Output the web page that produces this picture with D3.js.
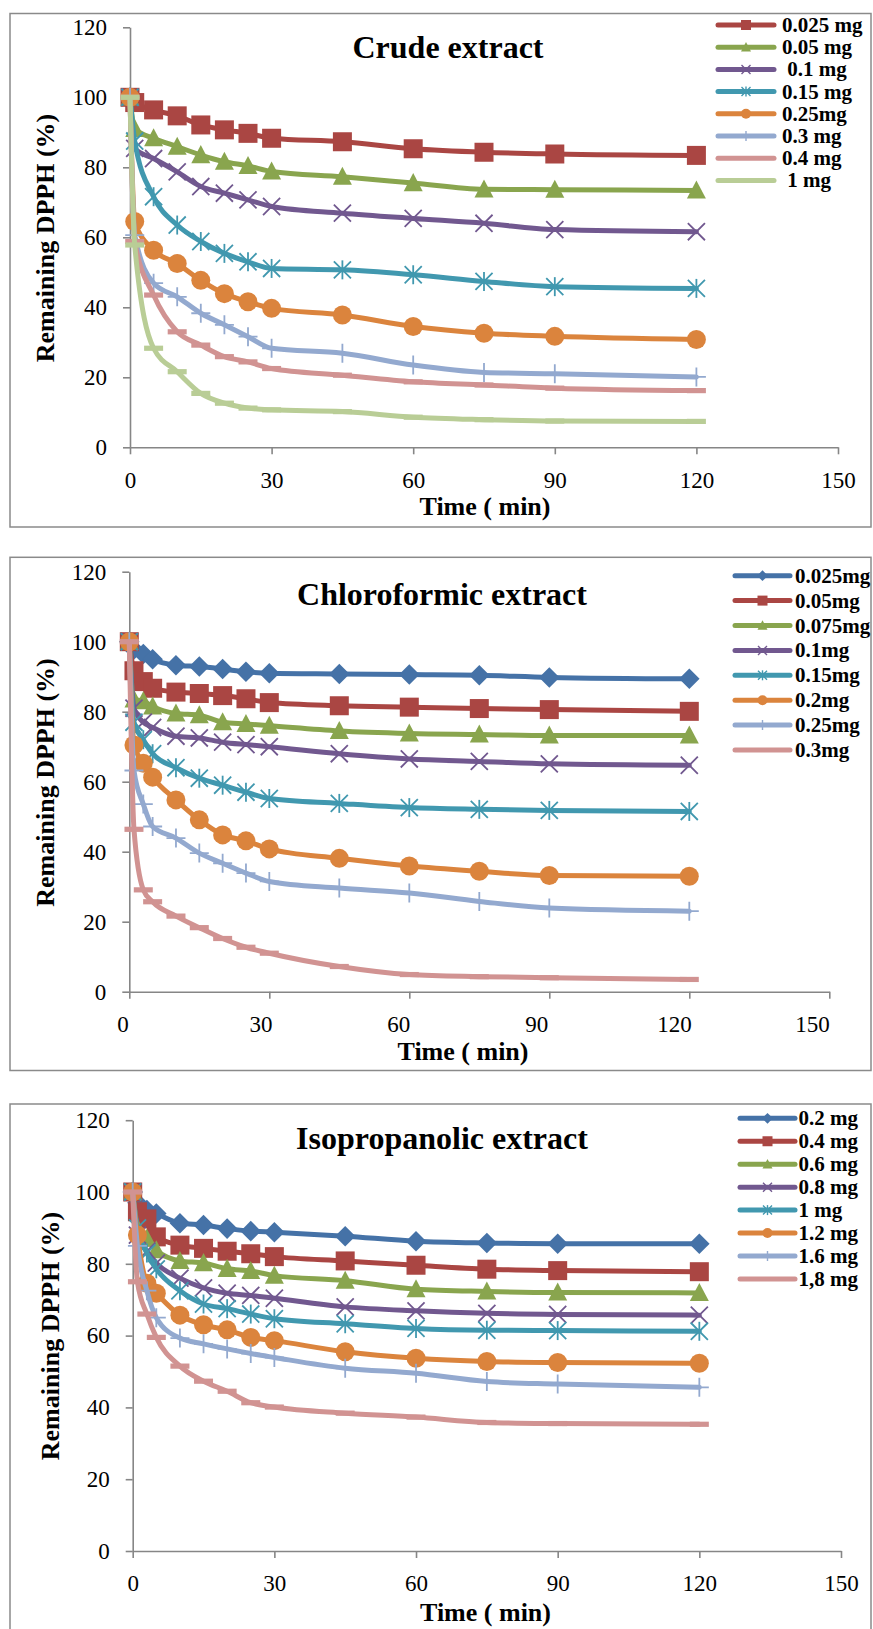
<!DOCTYPE html>
<html>
<head>
<meta charset="utf-8">
<script src="https://cdn.jsdelivr.net/npm/d3@7"></script>
<style>
body { margin: 0; background: #fff; }
svg text { font-family: "Liberation Serif", "Times New Roman", serif; }
</style>
</head>
<body>
<svg id="chart" width="873" height="1629"></svg>
<script>
// ---- data ----
var timesCrude = [0, 1, 5, 10, 15, 20, 25, 30, 45, 60, 75, 90, 120];
var dosesCrude = ["0.025 mg", "0.05 mg", " 0.1 mg", "0.15 mg", "0.25mg", "0.3 mg", "0.4 mg", " 1 mg"];
var valuesCrude = [
    [100, 98.5, 96.4, 94.7, 92.1, 90.7, 89.7, 88.3, 87.3, 85.3, 84.3, 83.8, 83.4],
    [100, 91.0, 88.3, 85.9, 83.5, 81.6, 80.4, 78.8, 77.3, 75.5, 73.7, 73.6, 73.4],
    [100, 85.4, 82.5, 78.7, 74.5, 72.6, 70.7, 68.8, 66.9, 65.4, 64.0, 62.2, 61.6],
    [100, 87.5, 71.6, 63.5, 58.8, 55.4, 53.0, 51.1, 50.7, 49.3, 47.4, 45.9, 45.4],
    [100, 64.5, 56.3, 52.5, 47.7, 43.9, 41.6, 39.7, 37.8, 34.5, 32.6, 31.7, 30.8],
    [100, 60.6, 46.9, 43.0, 38.3, 35.0, 31.6, 28.3, 26.9, 23.5, 21.4, 21.0, 20.1],
    [100, 58.8, 43.5, 33.0, 29.2, 25.9, 24.4, 22.5, 20.6, 18.7, 17.8, 16.9, 16.2],
    [100, 57.8, 28.3, 21.6, 15.4, 12.6, 11.2, 10.7, 10.2, 8.6, 7.9, 7.5, 7.4]
];

var timesChloro = [0, 1, 3, 5, 10, 15, 20, 25, 30, 45, 60, 75, 90, 120];
var dosesChloro = ["0.025mg", "0.05mg", "0.075mg", "0.1mg", "0.15mg", "0.2mg", "0.25mg", "0.3mg"];
var valuesChloro = [
    [100, 97.8, 96.5, 95.0, 93.3, 92.9, 92.2, 91.4, 91.0, 90.8, 90.6, 90.4, 89.8, 89.4],
    [100, 91.7, 88.6, 86.7, 85.6, 85.2, 84.6, 83.7, 82.6, 81.7, 81.3, 80.9, 80.6, 80.1],
    [100, 83.5, 83.0, 81.5, 79.5, 79.0, 77.0, 76.5, 76.0, 74.5, 73.8, 73.5, 73.2, 73.2],
    [100, 81.0, 77.0, 75.5, 73.0, 72.5, 71.3, 70.6, 70.0, 68.0, 66.5, 65.8, 65.1, 64.7],
    [100, 77.0, 72.0, 68.0, 64.0, 61.0, 59.0, 57.0, 55.2, 53.8, 52.6, 52.1, 51.8, 51.5],
    [100, 70.5, 65.3, 61.3, 54.8, 49.1, 44.8, 43.1, 40.8, 38.1, 35.9, 34.4, 33.2, 33.0],
    [100, 63.2, 53.6, 47.2, 43.9, 39.6, 36.7, 33.9, 31.5, 29.6, 28.2, 25.8, 23.9, 23.0],
    [100, 46.4, 29.1, 25.7, 21.6, 18.3, 15.2, 12.7, 11.0, 7.2, 4.9, 4.3, 4.0, 3.5]
];

var timesIso = [0, 1, 3, 5, 10, 15, 20, 25, 30, 45, 60, 75, 90, 120];
var dosesIso = ["0.2 mg", "0.4 mg", "0.6 mg", "0.8 mg", "1 mg", "1.2 mg", "1.6 mg", "1,8 mg"];
var valuesIso = [
    [100, 97.0, 95.0, 94.0, 91.3, 90.8, 89.8, 89.1, 88.8, 87.7, 86.3, 85.8, 85.6, 85.6],
    [100, 94.5, 92.5, 87.5, 85.2, 84.3, 83.5, 82.8, 82.0, 80.8, 79.6, 78.5, 78.1, 77.8],
    [100, 90.0, 87.0, 83.8, 80.8, 80.2, 78.6, 78.0, 76.7, 75.3, 72.9, 72.3, 72.0, 71.9],
    [100, 88.0, 83.5, 80.2, 76.0, 73.3, 71.8, 71.2, 70.4, 68.0, 66.9, 66.2, 65.9, 65.7],
    [100, 90.0, 83.0, 78.6, 72.5, 68.8, 67.5, 66.0, 64.7, 63.3, 62.0, 61.5, 61.4, 61.2],
    [100, 88.0, 74.6, 71.8, 65.7, 63.0, 61.6, 59.5, 58.6, 55.5, 53.7, 52.8, 52.5, 52.3],
    [100, 85.0, 72.5, 65.0, 59.3, 57.7, 56.3, 55.0, 53.9, 50.9, 49.5, 47.2, 46.5, 45.6],
    [100, 75.0, 66.0, 59.5, 51.5, 47.3, 44.5, 41.3, 40.1, 38.4, 37.3, 35.8, 35.5, 35.3]
];

var yTicks = [0, 20, 40, 60, 80, 100, 120];
var xTicks = [0, 30, 60, 90, 120, 150];

// ---- styles ----
var styles = {
    blue:    {color: "#4572A7", marker: "diamond"},
    red:     {color: "#AA4643", marker: "square"},
    green:   {color: "#89A54E", marker: "triangle"},
    purple:  {color: "#71588F", marker: "cross"},
    teal:    {color: "#4198AF", marker: "star"},
    orange:  {color: "#DB843D", marker: "circle"},
    ltblue:  {color: "#93A9CF", marker: "plus"},
    pink:    {color: "#D19392", marker: "dash"},
    ltgreen: {color: "#B9CD96", marker: "dash"}
};
var axisColor = "#868686";
var serif = "'Liberation Serif', 'Times New Roman', serif";
var svg = d3.select("#chart");

function drawMarker(g, type, x, y, s, color, legend) {
    var m = g.append("g").attr("transform", "translate(" + x + "," + y + ")");
    var h = s / 2;
    var sw = legend ? 1.4 : 1.8;
    if (type == "square") {
        m.append("rect").attr("x", -h).attr("y", -h).attr("width", s).attr("height", s).attr("fill", color);
    } else if (type == "diamond") {
        var d = h * 1.08;
        m.append("path").attr("d", "M0," + (-d) + "L" + d + ",0L0," + d + "L" + (-d) + ",0Z").attr("fill", color);
    } else if (type == "triangle") {
        m.append("path").attr("d", "M0," + (-h * 1.05) + "L" + h + "," + (h * 0.85) + "L" + (-h) + "," + (h * 0.85) + "Z").attr("fill", color);
    } else if (type == "circle") {
        m.append("circle").attr("r", h).attr("fill", color);
    } else if (type == "cross" || type == "star") {
        var c = h * 0.9;
        m.append("path").attr("d", "M" + (-c) + "," + (-c) + "L" + c + "," + c + "M" + c + "," + (-c) + "L" + (-c) + "," + c)
            .attr("stroke", color).attr("stroke-width", sw).attr("fill", "none");
        if (type == "star")
            m.append("path").attr("d", "M0," + (-h) + "L0," + h).attr("stroke", color).attr("stroke-width", sw);
    } else if (type == "plus") {
        m.append("path").attr("d", "M0," + (-h) + "L0," + h + "M" + (-h) + ",0L" + h + ",0")
            .attr("stroke", color).attr("stroke-width", sw);
    } else if (type == "dash") {
        if (!legend)
            m.append("rect").attr("x", -h).attr("y", -2.6).attr("width", s).attr("height", 5.2).attr("fill", color);
    }
}

function drawPanel(p, times, doses, values, keys) {
    var g = svg.append("g");

    g.append("rect")
        .attr("x", p.box[0]).attr("y", p.box[1])
        .attr("width", p.box[2] - p.box[0]).attr("height", p.box[3] - p.box[1])
        .attr("fill", "#fff").attr("stroke", "#8a8a8a").attr("stroke-width", 1.5);

    var x = d3.scaleLinear().domain([0, 150]).range(p.xr);
    var y = d3.scaleLinear().domain([0, 120]).range(p.yr);

    var ax = g.append("g")
        .attr("transform", "translate(0," + p.yr[0] + ")")
        .call(d3.axisBottom(x).tickValues(xTicks).tickSize(7).tickSizeOuter(0).tickPadding(17));
    var ay = g.append("g")
        .attr("transform", "translate(" + p.xr[0] + ",0)")
        .call(d3.axisLeft(y).tickValues(yTicks).tickSize(7).tickSizeOuter(0).tickPadding(16));
    [ax, ay].forEach(function (a) {
        a.attr("font-family", serif).attr("font-size", 23);
        a.select(".domain").attr("stroke", axisColor).attr("stroke-width", 1.6);
        a.selectAll(".tick line").attr("stroke", axisColor).attr("stroke-width", 1.6);
        a.selectAll(".tick text").attr("fill", "#000").attr("font-family", serif).attr("font-size", 23);
    });
    if (p.xlab) {
        var lx = d3.scaleLinear().domain([0, 150]).range(p.xlab);
        ax.selectAll(".tick text").attr("x", function (d) { return lx(d) - x(d); });
    }

    var line = d3.line()
        .x(function (d) { return x(d[0]); })
        .y(function (d) { return y(d[1]); })
        .curve(d3.curveMonotoneX);

    values.forEach(function (vals, i) {
        var st = styles[keys[i]];
        var pts = times.map(function (t, j) { return [t, vals[j]]; });
        var sg = g.append("g").attr("class", "series");
        sg.append("path").attr("d", line(pts))
            .attr("fill", "none").attr("stroke", st.color).attr("stroke-width", 5)
            .attr("stroke-linejoin", "round").attr("stroke-linecap", "round");
        pts.forEach(function (d) {
            drawMarker(sg, st.marker, x(d[0]), y(d[1]), 19, st.color, false);
        });
    });

    // legend
    var lg = g.append("g");
    doses.forEach(function (lbl, i) {
        var st = styles[keys[i]];
        var ly = p.leg.y + i * p.leg.dy;
        lg.append("line").attr("x1", p.leg.x0).attr("x2", p.leg.x1).attr("y1", ly).attr("y2", ly)
            .attr("stroke", st.color).attr("stroke-width", 5).attr("stroke-linecap", "round");
        drawMarker(lg, st.marker, (p.leg.x0 + p.leg.x1) / 2, ly, 10, st.color, true);
        lg.append("text").attr("x", p.leg.tx).attr("y", ly + 7)
            .style("white-space", "pre")
            .attr("font-size", 21).attr("font-weight", "bold").text(lbl);
    });

    g.append("text").attr("x", p.title[0]).attr("y", p.title[1])
        .attr("text-anchor", "middle").attr("font-size", 32).attr("font-weight", "bold").text(p.title[2]);
    g.append("text").attr("x", p.xt[0]).attr("y", p.xt[1])
        .attr("text-anchor", "middle").attr("font-size", 26).attr("font-weight", "bold").text("Time ( min)");
    g.append("text").attr("transform", "translate(" + p.yt[0] + "," + p.yt[1] + ") rotate(-90)")
        .attr("text-anchor", "middle").attr("font-size", 26).attr("font-weight", "bold").text("Remaining DPPH (%)");
}

drawPanel({
    box: [10, 13.5, 871, 527],
    xr: [130, 838], yr: [447.3, 27.3],
    leg: {x0: 718, x1: 774, tx: 782, y: 25, dy: 22.2},
    title: [448, 57.5, "Crude extract"],
    xt: [485, 515], yt: [54, 238]
}, timesCrude, dosesCrude, valuesCrude,
   ["red", "green", "purple", "teal", "orange", "ltblue", "pink", "ltgreen"]);

drawPanel({
    box: [10, 557.3, 871, 1070.5],
    xr: [129.3, 829.3], yr: [991.7, 571.7], xlab: [122.5, 812],
    leg: {x0: 735, x1: 790, tx: 795, y: 575.7, dy: 24.9},
    title: [442, 605, "Chloroformic extract"],
    xt: [463, 1060], yt: [54, 782.5]
}, timesChloro, dosesChloro, valuesChloro,
   ["blue", "red", "green", "purple", "teal", "orange", "ltblue", "pink"]);

drawPanel({
    box: [10, 1104, 871, 1660],
    xr: [132.7, 841], yr: [1551, 1120.2],
    leg: {x0: 740, x1: 795, tx: 798.5, y: 1118.3, dy: 22.95},
    title: [442, 1149, "Isopropanolic extract"],
    xt: [485.5, 1621], yt: [58.5, 1336]
}, timesIso, dosesIso, valuesIso,
   ["blue", "red", "green", "purple", "teal", "orange", "ltblue", "pink"]);
</script>
</body>
</html>
